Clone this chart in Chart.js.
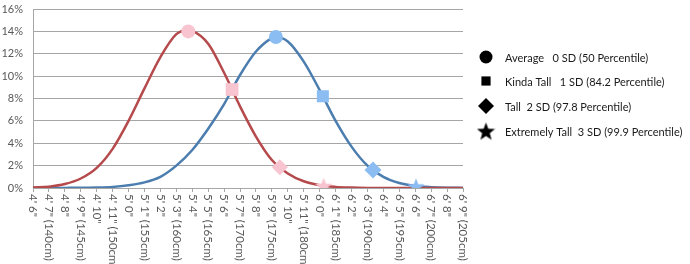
<!DOCTYPE html>
<html>
<head>
<meta charset="utf-8">
<script src="https://cdn.jsdelivr.net/npm/chart.js@4.4.0/dist/chart.umd.min.js"></script>
<style>
  html, body { margin: 0; padding: 0; background: #fff; }
  #wrap { width: 690px; height: 264px; }
</style>
</head>
<body>
<div id="wrap"><canvas id="chart" width="690" height="264"></canvas></div>
<script>
// height in inches, one tick per inch from 4'6" to 6'9"
const inches = [54, 55, 56, 57, 58, 59, 60, 61, 62, 63, 64, 65, 66, 67, 68, 69, 70, 71, 72, 73, 74, 75, 76, 77, 78, 79, 80, 81];
const tickLabels = [
    '4\' 6"', '4\' 7" (140cm)', '4\' 8"', '4\' 9" (145cm)', '4\' 10"', '4\' 11" (150cm)', '5\' 0"',
    '5\' 1" (155cm)', '5\' 2"', '5\' 3" (160cm)', '5\' 4"', '5\' 5" (165cm)', '5\' 6"', '5\' 7" (170cm)',
    '5\' 8"', '5\' 9" (175cm)', '5\' 10"', '5\' 11" (180cm)', '6\' 0"', '6\' 1" (185cm)', '6\' 2"',
    '6\' 3" (190cm)', '6\' 4"', '6\' 5" (195cm)', '6\' 6"', '6\' 7" (200cm)', '6\' 8"', '6\' 9" (205cm)'
];
const yTicks = [0, 2, 4, 6, 8, 10, 12, 14, 16];

// women's curve (red)
const womenX = [54, 55, 56, 57, 58, 59, 60, 61, 62, 63, 63.75, 64, 65, 66, 67, 68, 69, 70, 71, 72, 73, 74, 75, 76, 77, 78, 79, 80, 81];
const womenPct = [0.04, 0.12, 0.35, 0.85, 1.8, 3.5, 6.0, 8.9, 11.7, 13.75, 14.1, 14.05, 12.9, 10.3, 7.3, 4.6, 2.5, 1.3, 0.6, 0.25, 0.1, 0.04, 0.01, 0, 0, 0, 0, 0, 0];
// men's curve (blue)
const menX = [54, 55, 56, 57, 58, 59, 60, 61, 62, 63, 64, 65, 66, 67, 68, 69, 69.25, 70, 71, 72, 73, 74, 75, 76, 77, 78, 79, 80, 81];
const menPct = [0, 0, 0.01, 0.02, 0.04, 0.1, 0.25, 0.5, 1.0, 2.0, 3.4, 5.3, 7.5, 10.1, 12.2, 13.4, 13.5, 13.1, 11.3, 8.75, 6.0, 3.7, 2.0, 1.0, 0.45, 0.18, 0.07, 0.02, 0.01];

// markers: average, +1 SD, +2 SD, +3 SD
const womenMarkX = [63.75, 66.5, 69.5, 72.25];
const womenMarkPct = [14.0, 8.8, 1.85, 0.2];
const menMarkX = [69.25, 72.2, 75.35, 78.05];
const menMarkPct = [13.5, 8.2, 1.6, 0.15];

const legendLabels = [
    'Average   0 SD (50 Percentile)',
    'Kinda Tall   1 SD (84.2 Percentile)',
    'Tall  2 SD (97.8 Percentile)',
    'Extremely Tall  3 SD (99.9 Percentile)'
];

const RED = '#b5494b';
const BLUE = '#4b7daf';
const PINK = '#f8c4d0';
const LIGHTBLUE = '#8bbdf2';
const TEXT = '#595959';

function makeStar(color, size) {
    const c = document.createElement('canvas');
    c.width = size;
    c.height = size;
    const g = c.getContext('2d');
    const cx = size / 2, cy = size / 2 + size * 0.05;
    const outer = size / 2, inner = outer * 0.42;
    g.beginPath();
    for (let i = 0; i < 10; i++) {
        const r = i % 2 === 0 ? outer : inner;
        const a = -Math.PI / 2 + i * Math.PI / 5;
        g.lineTo(cx + r * Math.cos(a), cy + r * Math.sin(a));
    }
    g.closePath();
    g.fillStyle = color;
    g.fill();
    return c;
}

const pinkStar = makeStar(PINK, 18);
const blueStar = makeStar(LIGHTBLUE, 18);
const blackStar = makeStar('#000', 19);

const toPoints = (xs, ys) => xs.map((x, i) => ({ x: x, y: ys[i] }));

// rotated x labels, reading top to bottom
const xLabelPlugin = {
    id: 'xLabels',
    afterDraw(chart) {
        const ctx = chart.ctx;
        const xs = chart.scales.x;
        ctx.save();
        ctx.fillStyle = TEXT;
        ctx.font = '11.5px Lato, "Open Sans", sans-serif';
        ctx.textAlign = 'left';
        ctx.textBaseline = 'middle';
        inches.forEach((v, i) => {
            const px = xs.getPixelForValue(v);
            ctx.save();
            ctx.translate(px, xs.top + 6);
            ctx.rotate(Math.PI / 2);
            ctx.fillText(tickLabels[i], 0, 0);
            ctx.restore();
        });
        ctx.restore();
    }
};

// legend on the right
const sideLegendPlugin = {
    id: 'sideLegend',
    afterDraw(chart) {
        const ctx = chart.ctx;
        const shapes = [
            { pointStyle: 'circle', radius: 6.5 },
            { pointStyle: 'rect', radius: 6.5 },
            { pointStyle: 'rectRot', radius: 8 },
            { pointStyle: blackStar, radius: 9 }
        ];
        const rowY = [57, 81, 106, 131];
        ctx.save();
        ctx.font = '11px Lato, "Open Sans", sans-serif';
        ctx.textBaseline = 'middle';
        ctx.textAlign = 'left';
        legendLabels.forEach((txt, i) => {
            ctx.fillStyle = '#000';
            ctx.strokeStyle = '#000';
            ctx.lineWidth = 0;
            Chart.helpers.drawPoint(ctx, { pointStyle: shapes[i].pointStyle, radius: shapes[i].radius, rotation: 0, borderWidth: 0 }, 486, rowY[i]);
            ctx.fillStyle = '#1a1a1a';
            ctx.fillText(txt, 505, rowY[i] + 1);
        });
        ctx.restore();
    }
};

const markerStyles = ['circle', 'rect', 'rectRot'];

new Chart(document.getElementById('chart'), {
    type: 'line',
    data: {
        datasets: [
            {
                type: 'scatter',
                data: toPoints(womenMarkX, womenMarkPct),
                showLine: false,
                pointStyle: markerStyles.concat([pinkStar]),
                pointRadius: [7, 9, 8, 9],
                pointBackgroundColor: PINK,
                pointBorderColor: PINK,
                pointBorderWidth: 0
            },
            {
                type: 'scatter',
                data: toPoints(menMarkX, menMarkPct),
                showLine: false,
                pointStyle: markerStyles.concat([blueStar]),
                pointRadius: [7, 8.5, 8.5, 9],
                pointBackgroundColor: LIGHTBLUE,
                pointBorderColor: LIGHTBLUE,
                pointBorderWidth: 0
            },
            {
                data: toPoints(womenX, womenPct),
                borderColor: RED,
                borderWidth: 2.5,
                pointRadius: 0,
                cubicInterpolationMode: 'monotone',
                fill: false
            },
            {
                data: toPoints(menX, menPct),
                borderColor: BLUE,
                borderWidth: 2.5,
                pointRadius: 0,
                cubicInterpolationMode: 'monotone',
                fill: false
            }
        ]
    },
    options: {
        responsive: false,
        animation: false,
        layout: { padding: { top: 9, right: 227, left: 0, bottom: 0 } },
        plugins: {
            legend: { display: false },
            tooltip: { enabled: false }
        },
        scales: {
            x: {
                type: 'linear',
                min: inches[0],
                max: inches[inches.length - 1],
                afterFit: (s) => { s.height = 76; },
                afterBuildTicks: (s) => { s.ticks = inches.map(v => ({ value: v })); },
                ticks: { display: false, autoSkip: false },
                grid: { drawOnChartArea: false, drawTicks: true, tickLength: 4, color: '#a6a6a6' },
                border: { color: '#a6a6a6', width: 1 }
            },
            y: {
                min: 0,
                max: 16,
                afterFit: (s) => { s.width = 33; s.paddingTop = 0; s.paddingBottom = 0; },
                afterBuildTicks: (s) => { s.ticks = yTicks.map(v => ({ value: v })); },
                ticks: {
                    padding: 10,
                    color: TEXT,
                    font: { family: 'Lato, "Open Sans", sans-serif', size: 11 },
                    callback: (v) => v + '%'
                },
                grid: { color: '#a6a6a6', drawTicks: false },
                border: { color: '#a6a6a6', width: 1 }
            }
        }
    },
    plugins: [xLabelPlugin, sideLegendPlugin]
});
</script>
</body>
</html>
